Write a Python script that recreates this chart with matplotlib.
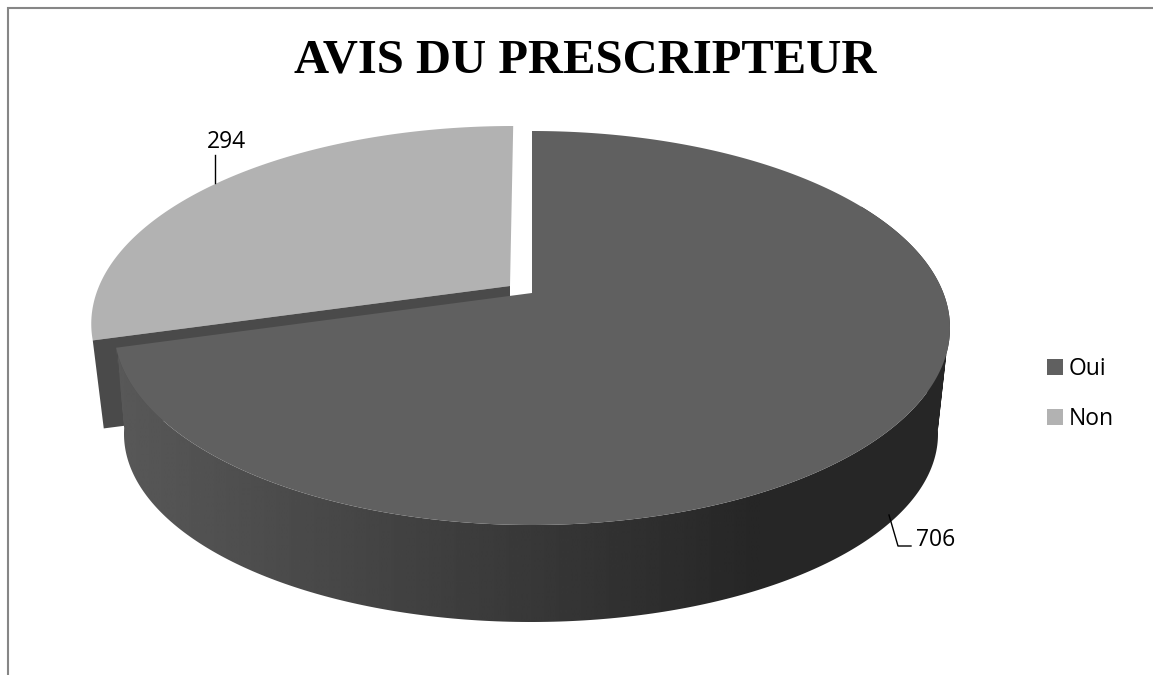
# -*- coding: utf-8 -*-
import matplotlib
matplotlib.use('Agg')
import matplotlib.pyplot as plt
from matplotlib.patches import Patch, PathPatch, Polygon
from matplotlib.path import Path
import numpy as np

# Donnees
categories = ['Oui', 'Non']
valeurs = [706, 294]
titre = 'AVIS DU PRESCRIPTEUR'

couleur_oui = '#606060'
couleur_non = '#b2b2b2'
couleur_mur = '#4a4a4a'
couleur_cadre = '#868686'

# angle de la part "Non", compte depuis le haut, sens anti-horaire
angle_non = 2*np.pi*valeurs[1]/sum(valeurs)


def projette(theta, x0, y0, haut, bas, demi_l, cisaille=0.0):
    # disque -> ellipse en perspective, theta depuis le haut, sens horaire
    k = (bas - haut)/(bas + haut)
    b = haut*(1 + k)
    a = demi_l*np.sqrt(1 - k**2)
    x = np.sin(theta)
    y = np.cos(theta)
    w = 1 + k*y
    return x0 + a*x/w + cisaille*b*y/w, y0 - b*y/w


def dessus(theta):
    return projette(theta, 532, 293, 162, 232, 418)


def dessous(theta):
    return projette(theta, 531, 373, 127, 249, 407)


def part_non(theta):
    return projette(theta, 510, 286, 160, 232, 418, cisaille=0.02)


fig = plt.figure(figsize=(11.53, 6.75), dpi=100)
ax = fig.add_axes([0, 0, 1, 1])

# cadre (haut et gauche seulement)
ax.plot([8, 8, 1153], [675, 7.5, 7.5], color=couleur_cadre, lw=1.5, solid_joinstyle='miter')

# --- part Non, detachee ---
t_non = np.linspace(-angle_non, 0, 200)
xn, yn = part_non(t_non)
ax.add_patch(Polygon(np.c_[np.r_[510, xn], np.r_[286, yn]], closed=True, fc=couleur_non, ec='none', zorder=2))
# mur de coupe sous la part Non
xc, yc = part_non(-angle_non)
ax.add_patch(Polygon([(510, 286), (xc, yc), (xc + 11, yc + 88), (510, 376)], closed=True,
                     fc=couleur_mur, ec='none', zorder=3))

# --- part Oui : flanc puis dessus ---
t_oui = np.linspace(0, 2*np.pi - angle_non, 400)
xh, yh = dessus(t_oui)
t_cote = t_oui[t_oui > np.pi/3]
xh2, yh2 = dessus(t_cote)
xb2, yb2 = dessous(t_cote)

# flanc : degrade clair a gauche, sombre a droite, decoupe par le contour
sommets = []
codes = []
for i in range(len(t_cote) - 1):
    quad = [(xh2[i], yh2[i]), (xh2[i+1], yh2[i+1]), (xb2[i+1], yb2[i+1]), (xb2[i], yb2[i])]
    # tous les quads dans le meme sens, sinon ils s'annulent dans le clip
    aire = sum(quad[j][0]*quad[(j+1) % 4][1] - quad[(j+1) % 4][0]*quad[j][1] for j in range(4))
    if aire < 0:
        quad = quad[::-1]
    sommets += quad + [quad[0]]
    codes += [Path.MOVETO, Path.LINETO, Path.LINETO, Path.LINETO, Path.CLOSEPOLY]
chemin = Path(sommets, codes)
chemin.should_simplify = False
contour = PathPatch(chemin, transform=ax.transData, fc='none', ec='none')
ax.add_patch(contour)
degrade = np.linspace(0x58, 0x26, 256)[np.newaxis, :]/255
img = ax.imshow(degrade, extent=(120, 760, 640, 200), aspect='auto', cmap='gray', vmin=0, vmax=1,
                zorder=4, interpolation='bilinear')
img.set_clip_path(contour)
# au dela de x=760 le gris reste constant, en deca de x=120 aussi
droite = ax.fill_between([760, 960], 200, 640, color='#262626', lw=0, zorder=4)
droite.set_clip_path(contour)
gauche = ax.fill_between([100, 120], 200, 640, color='#585858', lw=0, zorder=4)
gauche.set_clip_path(contour)

ax.add_patch(Polygon(np.c_[np.r_[532, xh], np.r_[293, yh]], closed=True, fc=couleur_oui, ec='none', zorder=5))

# etiquettes et traits de rappel
ax.plot([215, 215], [155, 183], color='black', lw=1, zorder=6)
ax.text(207, 148, str(valeurs[1]), family='Open Sans', fontsize=16.5, va='baseline', ha='left')
ax.plot([889, 898, 911], [515, 546, 546], color='black', lw=1, zorder=6)
ax.text(916, 546, str(valeurs[0]), family='Open Sans', fontsize=16.5, va='baseline', ha='left')

# titre
ax.text(585, 72.5, titre, family='Liberation Serif', fontweight='bold', fontsize=35, ha='center', va='baseline')

ax.set_xlim(0, 1153)
ax.set_ylim(675, 0)
ax.axis('off')

# legende
poignees = [Patch(fc=couleur_oui, ec='none'), Patch(fc=couleur_non, ec='none')]
ax.legend(poignees, categories, loc='center left', bbox_to_anchor=(1047, 394),
          bbox_transform=ax.transData, frameon=False,
          prop={'family': 'Open Sans', 'size': 16.5}, handlelength=0.68, handleheight=0.68,
          handletextpad=0.28, labelspacing=1.15, borderpad=0, borderaxespad=0)

fig.savefig('out.png', dpi=100)
